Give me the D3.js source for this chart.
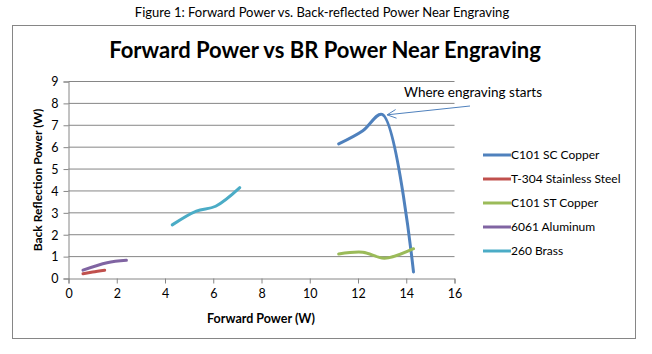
<!DOCTYPE html>
<html><head><meta charset="utf-8">
<script src="https://cdn.jsdelivr.net/npm/d3@7"></script>
<style>body{margin:0;background:#fff;}svg{display:block;font-family:Lato,"Open Sans",sans-serif;}</style>
</head><body><svg id="c" width="652" height="354"></svg>
<script>
const seriesNames = ["C101 SC Copper","T-304 Stainless Steel","C101 ST Copper","6061 Aluminum","260 Brass"];
const seriesColors = ["#4F81BD","#C0504D","#9BBB59","#8064A2","#4BACC6"];
const scCopper = [[11.2,6.15],[12.2,6.75],[13.0,7.5],[14.3,0.3]];
const stainless = [[0.6,0.22],[1.0,0.3],[1.5,0.38]];
const stCopper = [[11.2,1.12],[12.2,1.2],[13.1,0.93],[14.3,1.36]];
const aluminum = [[0.6,0.38],[1.6,0.72],[2.4,0.83]];
const brass = [[4.3,2.45],[5.3,3.08],[6.1,3.3],[7.1,4.15]];
const seriesData = [scCopper, stainless, stCopper, aluminum, brass];
const xTicks = [0,2,4,6,8,10,12,14,16];
const yTicks = [0,1,2,3,4,5,6,7,8,9];
const annotation = {text:"Where engraving starts", x:13.0, y:7.5};

const svg = d3.select("#c");
svg.append("text").attr("x",322).attr("y",17).attr("text-anchor","middle")
  .attr("font-size",13).attr("fill","#000").text("Figure 1: Forward Power vs. Back-reflected Power Near Engraving");
svg.append("rect").attr("x",12.5).attr("y",25.5).attr("width",623).attr("height",313)
  .attr("fill","#fff").attr("stroke","#868686").attr("stroke-width",1);
svg.append("text").attr("x",325).attr("y",58).attr("text-anchor","middle")
  .attr("font-size",22).attr("font-weight","bold").attr("fill","#000").text("Forward Power vs BR Power Near Engraving");

const x = d3.scaleLinear().domain([0,16]).range([68.5,454.5]);
const y = d3.scaleLinear().domain([0,9]).range([278.5,81.5]);

svg.append("g").selectAll("line").data(yTicks.filter(d=>d>0)).join("line")
  .attr("x1",x(0)).attr("x2",x(16)).attr("y1",d=>y(d)).attr("y2",d=>y(d))
  .attr("stroke","#868686").attr("stroke-width",1);

const xa = svg.append("g").attr("transform",`translate(0,${y(0)})`)
  .call(d3.axisBottom(x).tickValues(xTicks).tickSize(5).tickPadding(6));
const ya = svg.append("g").attr("transform",`translate(${x(0)},0)`)
  .call(d3.axisLeft(y).tickValues(yTicks).tickSize(5).tickPadding(5));
[xa,ya].forEach(a=>{
  a.select(".domain").attr("stroke","#868686");
  a.selectAll(".tick line").attr("stroke","#868686");
  a.selectAll("text").attr("font-size",12.5).attr("fill","#000").attr("font-family","Lato,'Open Sans',sans-serif");
});
ya.selectAll("text").attr("dy","0.35em");

svg.append("text").attr("x",261).attr("y",323).attr("text-anchor","middle")
  .attr("font-size",12.5).attr("font-weight","bold").text("Forward Power (W)");
svg.append("text").attr("transform","translate(42,180) rotate(-90)").attr("text-anchor","middle")
  .attr("font-size",12).attr("font-weight","bold").text("Back Reflection Power (W)");

const line = d3.line().x(d=>x(d[0])).y(d=>y(d[1])).curve(d3.curveCatmullRom.alpha(0.5));
seriesData.forEach((s,i)=>{
  svg.append("path").attr("d",line(s)).attr("fill","none").attr("stroke",seriesColors[i])
    .attr("stroke-width",3).attr("stroke-linecap","round").attr("stroke-linejoin","round");
});

// annotation
const tipX = x(annotation.x)+5, tipY = y(annotation.y)+0.5;
svg.append("line").attr("x1",470).attr("y1",106).attr("x2",tipX).attr("y2",tipY)
  .attr("stroke","#4F81BD").attr("stroke-width",1);
const ang = Math.atan2(106-tipY, 470-tipX);
[0.45,-0.45].forEach(o=>{
  svg.append("line").attr("x1",tipX).attr("y1",tipY)
    .attr("x2",tipX+10*Math.cos(ang+o)).attr("y2",tipY+10*Math.sin(ang+o))
    .attr("stroke","#4F81BD").attr("stroke-width",1);
});
svg.append("text").attr("x",404).attr("y",97).attr("font-size",13.5).text(annotation.text);

// legend
const lg = svg.append("g");
seriesNames.forEach((n,i)=>{
  const yy = 155 + i*24;
  lg.append("line").attr("x1",483).attr("x2",511).attr("y1",yy).attr("y2",yy)
    .attr("stroke",seriesColors[i]).attr("stroke-width",3);
  lg.append("text").attr("x",511).attr("y",yy).attr("dy","0.35em").attr("font-size",12).text(n);
});
</script></body></html>
